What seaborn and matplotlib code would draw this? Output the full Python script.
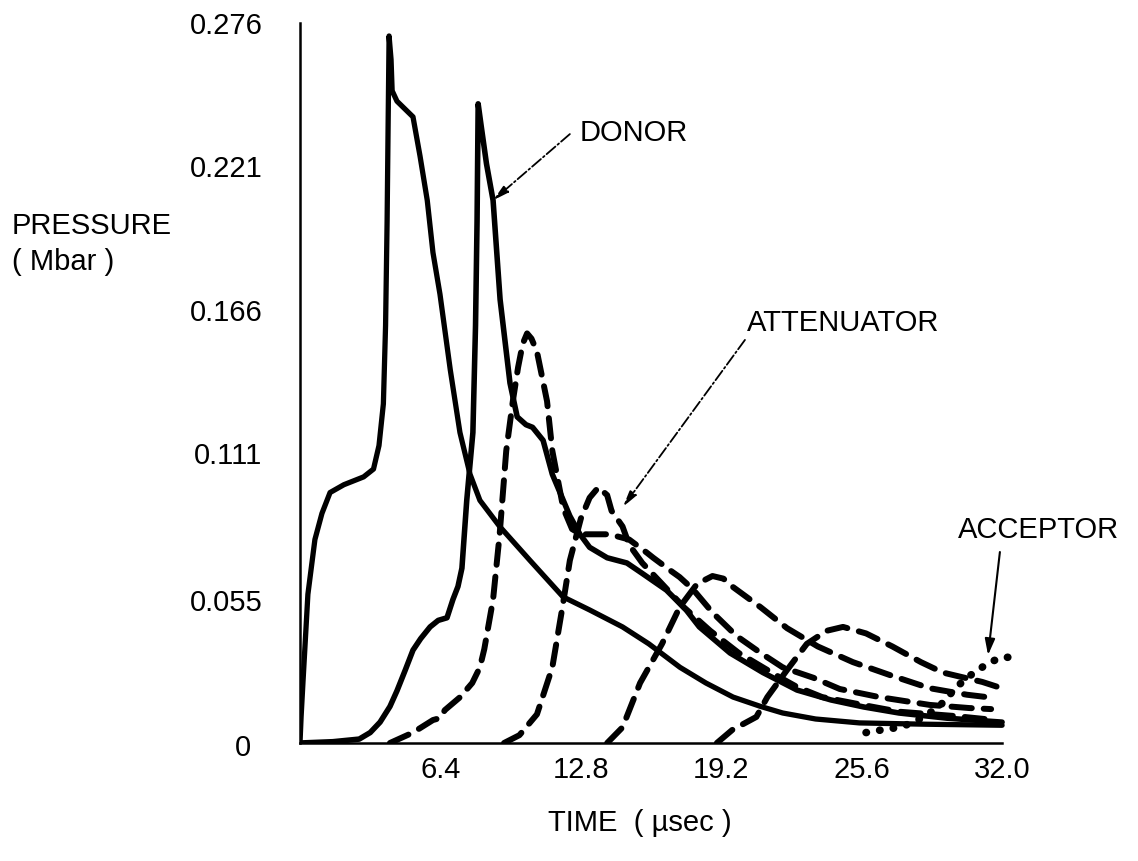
import matplotlib
matplotlib.use("Agg")
import matplotlib.pyplot as plt
import matplotlib.transforms as mtransforms
import seaborn as sns
import numpy as np
import pandas as pd

# ---------------- data ----------------
x_ticks = [6.4, 12.8, 19.2, 25.6, 32.0]
x_tick_labels = ["6.4", "12.8", "19.2", "25.6", "32.0"]
y_ticks = [0, 0.055, 0.111, 0.166, 0.221, 0.276]
y_tick_labels = ["0", "0.055", "0.111", "0.166", "0.221", "0.276"]

# donor gauge 1 (solid)
s1_t = [0, 0.05, 0.14, 0.36, 0.68, 1.0, 1.37, 2.0, 2.9, 3.35, 3.6, 3.8, 3.9, 3.97, 4.02, 4.06,
        4.15, 4.2, 4.42, 5.15, 5.47, 5.8, 6.06, 6.38, 6.85, 7.29, 7.75, 8.2, 9.1, 10.48, 11.99,
        13.2, 14.7, 15.9, 17.32, 18.5, 19.74, 21.0, 22.0, 23.5, 25.5, 28.5, 32.0]
s1_p = [0, 0.010, 0.024, 0.057, 0.078, 0.088, 0.096, 0.099, 0.102, 0.105, 0.114, 0.130, 0.160,
        0.200, 0.240, 0.271, 0.262, 0.250, 0.246, 0.240, 0.225, 0.208, 0.188, 0.172, 0.143, 0.119,
        0.103, 0.093, 0.083, 0.070, 0.056, 0.051, 0.0445, 0.038, 0.029, 0.023, 0.0176, 0.0140,
        0.0115, 0.0092, 0.0077, 0.0072, 0.0068]

# donor gauge 2 (solid)
s2_t = [0, 1.5, 2.7, 3.2, 3.65, 4.1, 4.42, 4.8, 5.15, 5.5, 5.93, 6.3, 6.7, 6.97, 7.2, 7.38, 7.6,
        7.88, 8.0, 8.07, 8.12, 8.25, 8.5, 8.8, 9.12, 9.57, 9.9, 10.3, 10.6, 11.08, 11.5, 12.3,
        12.76, 13.2, 14.0, 14.9, 15.6, 16.7, 17.6, 18.2, 19.6, 21.1, 22.65, 24.2, 25.7, 27.3,
        29.5, 32.0]
s2_p = [0, 0.0005, 0.0015, 0.004, 0.008, 0.014, 0.020, 0.028, 0.0356, 0.040, 0.0445, 0.047,
        0.048, 0.055, 0.060, 0.067, 0.093, 0.119, 0.160, 0.200, 0.245, 0.237, 0.222, 0.208,
        0.170, 0.138, 0.125, 0.122, 0.121, 0.116, 0.103, 0.087, 0.080, 0.075, 0.071, 0.069,
        0.065, 0.0586, 0.051, 0.0445, 0.0345, 0.027, 0.0203, 0.0165, 0.0138, 0.0115, 0.0095,
        0.008]

# attenuator gauges (dashed)
d1_t = [4.1, 5.15, 6.06, 6.4, 6.6, 7.3, 7.85, 8.2, 8.4, 8.8, 9.1, 9.4, 9.7, 9.94, 10.15,
        10.35, 10.55, 10.8, 11.26, 11.5, 12.0, 12.4, 12.8, 13.4, 14.1, 15.0, 15.8, 16.1, 16.9,
        17.3, 17.9, 18.8, 19.9, 21.0, 22.0, 23.4, 24.6, 26.4, 28.7, 30.5, 31.5]
d1_p = [0, 0.004, 0.0088, 0.0096, 0.0126, 0.0176, 0.023, 0.029, 0.036, 0.055, 0.080,
        0.112, 0.131, 0.144, 0.153, 0.157, 0.155, 0.150, 0.131, 0.112, 0.090, 0.082, 0.080,
        0.080, 0.080, 0.078, 0.073, 0.071, 0.066, 0.0636, 0.059, 0.050, 0.041, 0.0345, 0.029,
        0.025, 0.0207, 0.0176, 0.0146, 0.0134, 0.013]

d2_t = [9.3, 10.0, 10.8, 11.5, 12.0, 12.3, 12.8, 13.2, 13.6, 14.0, 14.2, 14.7, 15.0, 15.6,
        16.5, 17.5, 18.7, 20.0, 21.9, 22.65, 23.8, 25.7, 27.3, 29.9, 31.2]
d2_p = [0, 0.003, 0.011, 0.029, 0.054, 0.070, 0.086, 0.094, 0.098, 0.095, 0.089, 0.083,
        0.076, 0.069, 0.061, 0.052, 0.043, 0.0345, 0.025, 0.0215, 0.0176, 0.0145, 0.012,
        0.0103, 0.0092]

d3_t = [14.0, 14.7, 15.5, 16.5, 17.3, 18.1, 18.8, 19.3, 19.7, 21.0, 22.2, 23.6, 25.2, 26.9,
        28.7, 30.4, 31.7]
d3_p = [0, 0.006, 0.023, 0.038, 0.052, 0.061, 0.064, 0.063, 0.060, 0.052, 0.044, 0.037,
        0.031, 0.026, 0.021, 0.0185, 0.0172]

d4_t = [19.0, 19.7, 20.8, 21.3, 22.2, 23.1, 24.0, 24.75, 25.8, 27.0, 28.3, 29.3, 31.1, 31.8]
d4_p = [0, 0.005, 0.010, 0.0176, 0.028, 0.038, 0.043, 0.0445, 0.042, 0.037, 0.031, 0.027,
        0.0234, 0.0215]

# acceptor gauge (dotted)
a_t = [25.8, 26.5, 27.3, 28.0, 28.4, 28.7, 29.2, 29.6, 30.0, 30.4, 30.9, 31.4, 31.9, 32.45]
a_p = [0.004, 0.005, 0.006, 0.008, 0.010, 0.0115, 0.0146, 0.0184, 0.022, 0.025, 0.028,
       0.0307, 0.0326, 0.033]

# ---------------- styling ----------------
sns.set_theme(style="white")
plt.rcParams["font.family"] = ["Liberation Sans", "DejaVu Sans"]
plt.rcParams.update({"text.color": "black", "axes.labelcolor": "black",
                     "xtick.color": "black", "ytick.color": "black"})
FS = 21

fig = plt.figure(figsize=(11.38, 8.61), dpi=100)
ax = fig.add_axes([300 / 1138, 118 / 861, 735 / 1138, 730.5 / 861])

common = dict(ax=ax, color="black", sort=False, estimator=None, legend=False)

sns.lineplot(x=s1_t, y=s1_p, linewidth=3.8, solid_joinstyle="round",
             solid_capstyle="round", **common)
sns.lineplot(x=s2_t, y=s2_p, linewidth=4.0, solid_joinstyle="round",
             solid_capstyle="round", **common)
for tt, pp in [(d1_t, d1_p), (d2_t, d2_p), (d3_t, d3_p), (d4_t, d4_p)]:
    sns.lineplot(x=tt, y=pp, linewidth=4.3, linestyle=(0, (3.4, 2.0)),
                 dash_capstyle="round", **common)
sns.lineplot(x=a_t, y=a_p, linewidth=5.5, linestyle=(0, (0.05, 1.75)),
             dash_capstyle="round", **common)

ax.set_xlim(0, 33.5)
ax.set_ylim(0, 0.28)
for s in ["top", "right"]:
    ax.spines[s].set_visible(False)
for s in ["left", "bottom"]:
    ax.spines[s].set_color("black")
    ax.spines[s].set_linewidth(1.8)
ax.spines["left"].set_bounds(0, 0.276)
ax.spines["bottom"].set_bounds(0, 32.0)

ax.set_xticks(x_ticks)
ax.set_xticklabels(x_tick_labels)
ax.set_yticks(y_ticks)
ax.set_yticklabels(y_tick_labels)
ax.tick_params(axis="both", direction="in", length=17, width=1.4, color="black",
               labelsize=FS, labelcolor="black")
ax.tick_params(axis="x", pad=9)
ax.tick_params(axis="y", pad=27)
ax.set_xlabel("")
ax.set_ylabel("")
ax.grid(False)

# the "0" label sits a little further left in the original
zero_lbl = ax.get_yticklabels()[0]
zero_lbl.set_transform(zero_lbl.get_transform() +
                       mtransforms.ScaledTranslation(-0.12, -0.02, fig.dpi_scale_trans))

# axis titles
fig.text(12 / 1138, 1 - 226 / 861, "PRESSURE", fontsize=FS, ha="left", va="center",
         color="black")
fig.text(12 / 1138, 1 - 262 / 861, "( Mbar )", fontsize=FS, ha="left", va="center",
         color="black")
fig.text(640 / 1138, 1 - 823 / 861, "TIME  ( µsec )", fontsize=FS, ha="center",
         va="center", color="black")

# labels with leaders
ax.text(12.76, 0.2338, "DONOR", fontsize=FS, ha="left", va="center", color="black")
ax.annotate("", xy=(8.8, 0.208), xytext=(12.3, 0.2334),
            arrowprops=dict(arrowstyle="-|>,head_length=0.8,head_width=0.2",
                            linestyle="-.", lw=1.3, color="black", shrinkA=0, shrinkB=0))
ax.text(20.37, 0.161, "ATTENUATOR", fontsize=FS, ha="left", va="center", color="black")
ax.annotate("", xy=(14.72, 0.0905), xytext=(20.28, 0.1545),
            arrowprops=dict(arrowstyle="-|>,head_length=0.8,head_width=0.2",
                            linestyle="-.", lw=1.3, color="black", shrinkA=0, shrinkB=0))
ax.text(30.0, 0.0816, "ACCEPTOR", fontsize=FS, ha="left", va="center", color="black")
ax.annotate("", xy=(31.36, 0.0337), xytext=(31.9, 0.0732),
            arrowprops=dict(arrowstyle="-|>,head_length=0.8,head_width=0.25",
                            lw=1.5, color="black", shrinkA=0, shrinkB=0))

fig.savefig("out.png", dpi=100)
